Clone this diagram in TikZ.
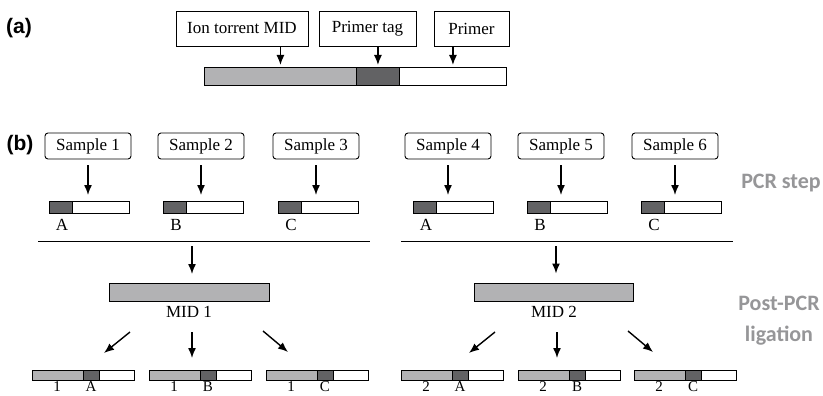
\documentclass[tikz,border=0pt]{standalone}
\usepackage{fontspec}
\setmainfont{Liberation Serif}
\newfontfamily\panelfont{Liberation Sans}
\newfontfamily\stepfont{Carlito}
\usetikzlibrary{arrows.meta,calc}
\definecolor{midgray}{RGB}{178,178,180}
\definecolor{taggray}{RGB}{98,98,100}
\definecolor{stepgray}{RGB}{150,150,152}

\begin{document}
\begin{tikzpicture}[x=1pt,y=-1pt,
    every node/.style={font=\fontsize{17}{20}\selectfont, inner sep=0pt},
    lbox/.style={draw, line width=0.9pt, minimum height=35},
    sbox/.style={draw, line width=0.9pt, rounded corners=3pt, minimum width=86, minimum height=26},
    seg/.style={draw, line width=0.9pt, anchor=north west},
    arr/.style={line width=1.4pt, -{Latex[length=10pt,width=8pt]}},
    panel/.style={font=\panelfont\bfseries\fontsize{21}{24}\selectfont},
    steplabel/.style={font=\stepfont\bfseries\fontsize{22}{31}\selectfont, text=stepgray, align=center}]

    \useasboundingbox (0,0) rectangle (823,396);

    % (a) structure of a read
    \node[panel] (pa) at (19,28) {(a)};
    \node[lbox, minimum width=132] (mid) at (242,28.5) {Ion torrent MID};
    \node[lbox, minimum width=97] (tag) at (367.5,28.5) {Primer tag};
    \node[lbox, minimum width=75] (prim) at (471.5,28.5) {Primer};

    \node[seg, fill=midgray, minimum width=152, minimum height=18] (bmid) at (204,67) {};
    \node[seg, fill=taggray, minimum width=43, minimum height=18] (btag) at (356,67) {};
    \node[seg, fill=white, minimum width=107, minimum height=18] (bprim) at (399,67) {};

    \draw[arr, shorten >=2pt] (mid.south -| bmid.north) -- (bmid.north);
    \draw[arr, shorten >=2pt] (tag.south -| btag.north) -- (btag.north);
    \draw[arr, shorten >=2pt] (prim.south -| bprim.north) -- (bprim.north);

    % (b) PCR step
    \node[panel] (pb) at (20,145) {(b)};
    \foreach \n/\x in {1/88,2/201,3/316,4/448,5/561,6/675}
        \node[sbox] (s\n) at (\x,146) {Sample \n};

    \foreach \n/\x/\l in {1/49/A,2/163/B,3/278/C,4/413/A,5/527/B,6/641/C} {
        \node[seg, fill=taggray, minimum width=23, minimum height=12] (t\n) at (\x,201) {};
        \node[seg, fill=white, minimum width=57, minimum height=12] (w\n) at (\x+23,201) {};
        \node (l\n) at (\x+13,225) {\l};
        \draw[arr, shorten <=6pt, shorten >=6pt] (s\n.south) -- (s\n.south |- t\n.north);
    }

    \node[steplabel] (pcr) at (781,183) {PCR step};

    % pooling and ligation
    \draw[line width=0.9pt] (38,241) -- (370,241);
    \draw[line width=0.9pt] (401,241) -- (733,241);
    \coordinate (pool1) at (192,241);
    \coordinate (pool2) at (556,241);

    \node[seg, fill=midgray, minimum width=160, minimum height=18] (m1) at (109,283) {};
    \node[seg, fill=midgray, minimum width=159, minimum height=18] (m2) at (474,282.5) {};
    \node (ml1) at (189,312) {MID 1};
    \node (ml2) at (554,312) {MID 2};

    \foreach \g in {1,2} {
        \draw[arr, shorten <=5pt, shorten >=9pt] (pool\g) -- (pool\g |- m\g.north);
        \coordinate (from\g a) at ($(ml\g)+(-59,20)$);
        \coordinate (to\g a) at ($(ml\g)+(-85,41)$);
        \coordinate (from\g b) at ($(ml\g)+(3,20)$);
        \coordinate (to\g b) at ($(ml\g)+(3,46)$);
        \coordinate (from\g c) at ($(ml\g)+(74,19)$);
        \coordinate (to\g c) at ($(ml\g)+(99,40)$);
        \foreach \k in {a,b,c}
            \draw[arr] (from\g\k) -- (to\g\k);
    }

    \foreach \n/\x/\g/\l in {1/32/1/A,2/149/1/B,3/266/1/C,4/401/2/A,5/518/2/B,6/634/2/C} {
        \node[seg, fill=midgray, minimum width=51, minimum height=10] (f\n) at (\x,370) {};
        \node[seg, fill=taggray, minimum width=16, minimum height=10] (d\n) at (\x+51,370) {};
        \node[seg, fill=white, minimum width=35, minimum height=10] (e\n) at (\x+67,370) {};
        \node[font=\fontsize{15}{17}\selectfont] (n\n) at (\x+25,386.5) {\g};
        \node[font=\fontsize{15}{17}\selectfont] (c\n) at (\x+59,386.5) {\l};
    }

    \node[steplabel] (post) at (779,321) {Post-PCR\\ligation};

\end{tikzpicture}
\end{document}
